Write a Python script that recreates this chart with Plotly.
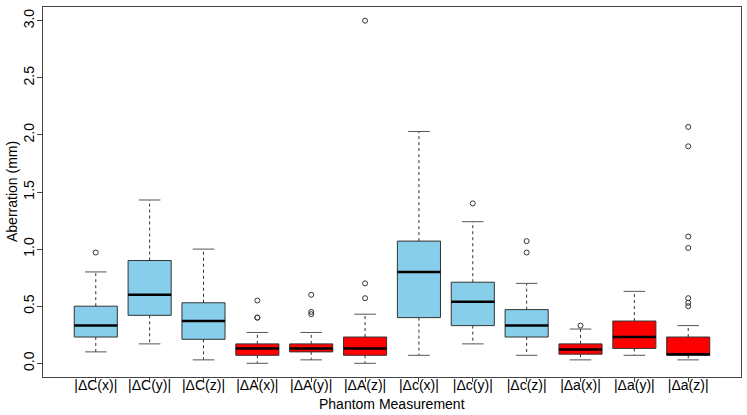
import plotly.graph_objects as go

labels = ["|ΔC(x)|", "|ΔC(y)|", "|ΔC(z)|", "|ΔA(x)|", "|ΔA(y)|", "|ΔA(z)|",
          "|Δc(x)|", "|Δc(y)|", "|Δc(z)|", "|Δa(x)|", "|Δa(y)|", "|Δa(z)|"]
lower = [0.10, 0.17, 0.03, 0.00, 0.03, 0.00, 0.07, 0.17, 0.07, 0.03, 0.07, 0.03]
q1 = [0.23, 0.42, 0.21, 0.07, 0.10, 0.07, 0.40, 0.33, 0.23, 0.08, 0.13, 0.07]
median = [0.33, 0.60, 0.37, 0.13, 0.13, 0.13, 0.80, 0.54, 0.33, 0.12, 0.23, 0.08]
q3 = [0.50, 0.90, 0.53, 0.17, 0.17, 0.23, 1.07, 0.71, 0.47, 0.17, 0.37, 0.23]
upper = [0.80, 1.43, 1.00, 0.27, 0.27, 0.43, 2.03, 1.24, 0.70, 0.30, 0.63, 0.33]
outliers = [[0.97], [], [], [0.55, 0.40, 0.40], [0.60, 0.45, 0.43],
            [3.00, 0.70, 0.57], [], [1.40], [1.07, 0.97], [0.33], [],
            [2.07, 1.90, 1.11, 1.01, 0.57, 0.53, 0.50]]
box_colors = ["#87CEEB"] * 3 + ["#FF0000"] * 3 + ["#87CEEB"] * 3 + ["#FF0000"] * 3

pos = list(range(1, len(labels) + 1))
half_box = 0.4
half_cap = 0.2

# whisker / cap / median segments, separated by None
wx, wy, cx, cy, mx, my = [], [], [], [], [], []
for p, lo, a, m, b, hi in zip(pos, lower, q1, median, q3, upper):
    wx += [p, p, None, p, p, None]
    wy += [b, hi, None, a, lo, None]
    cx += [p - half_cap, p + half_cap, None, p - half_cap, p + half_cap, None]
    cy += [hi, hi, None, lo, lo, None]
    mx += [p - half_box, p + half_box, None]
    my += [m, m, None]

ox = [p for p, vals in zip(pos, outliers) for _ in vals]
oy = [v for vals in outliers for v in vals]

fig = go.Figure()
fig.add_trace(go.Scatter(
    x=wx, y=wy, mode="lines",
    line=dict(color="#333333", width=1, dash="3px,3px"),
    hoverinfo="skip",
))
fig.add_trace(go.Scatter(
    x=cx, y=cy, mode="lines",
    line=dict(color="#555555", width=1),
    hoverinfo="skip",
))
fig.add_trace(go.Bar(
    x=pos, y=[b - a for a, b in zip(q1, q3)], base=q1,
    width=2 * half_box,
    marker=dict(color=box_colors, line=dict(color="#333333", width=1)),
))
fig.add_trace(go.Scatter(
    x=mx, y=my, mode="lines",
    line=dict(color="black", width=2.5),
    hoverinfo="skip",
))
fig.add_trace(go.Scatter(
    x=ox, y=oy, mode="markers",
    marker=dict(symbol="circle-open", size=5, color="#333333", line=dict(width=1)),
))

fig.update_layout(
    width=747,
    height=415,
    margin=dict(l=43, r=6, t=7, b=38),
    plot_bgcolor="white",
    paper_bgcolor="white",
    showlegend=False,
    font=dict(family="Liberation Sans, Arial, sans-serif", size=14, color="black"),
    xaxis=dict(
        range=[0.02, 12.98],
        tickvals=pos,
        ticktext=labels,
        showgrid=False,
        zeroline=False,
        showline=True,
        mirror=True,
        linecolor="#444444",
        ticks="outside",
        ticklen=4,
        tickcolor="#444444",
        tickfont=dict(size=14),
        ticklabelstandoff=-9,
        automargin=False,
    ),
    yaxis=dict(
        range=[-0.12, 3.12],
        tickvals=[0, 0.5, 1.0, 1.5, 2.0, 2.5, 3.0],
        ticktext=["0.0", "0.5", "1.0", "1.5", "2.0", "2.5", "3.0"],
        tickangle=-90,
        showgrid=False,
        zeroline=False,
        showline=True,
        mirror=True,
        linecolor="#444444",
        ticks="outside",
        ticklen=5,
        tickcolor="#444444",
        tickfont=dict(size=14),
        ticklabelstandoff=-3,
        automargin=False,
    ),
    annotations=[
        dict(text="Phantom Measurement", xref="paper", yref="paper",
             x=0.5, y=0, yanchor="middle", yshift=-27, showarrow=False,
             font=dict(size=14)),
        dict(text="Aberration (mm)", xref="paper", yref="paper",
             x=0, y=0.5, xanchor="center", xshift=-31, textangle=-90,
             showarrow=False, font=dict(size=14)),
    ],
)

# drop the page's default body margin so the figure sits at the window origin
fig.write_html("out.html", config={"displayModeBar": False},
               post_script="document.body.style.margin='0';")
